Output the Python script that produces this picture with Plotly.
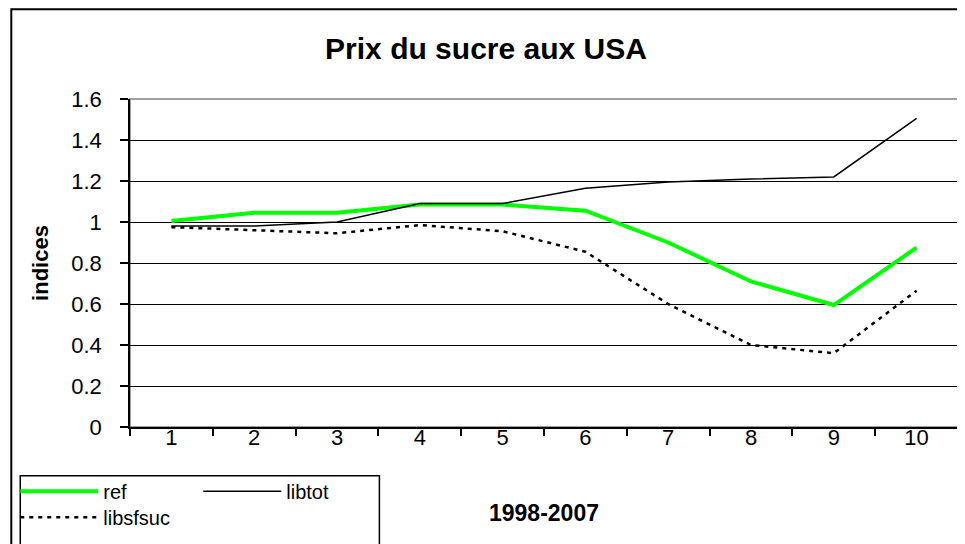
import plotly.graph_objects as go

# Data
years_idx = ["1", "2", "3", "4", "5", "6", "7", "8", "9", "10"]
ref = [1.005, 1.045, 1.045, 1.085, 1.085, 1.055, 0.90, 0.71, 0.595, 0.875]
libtot = [0.98, 0.98, 1.0, 1.09, 1.09, 1.165, 1.195, 1.21, 1.22, 1.505]
libsfsuc = [0.975, 0.96, 0.945, 0.985, 0.955, 0.855, 0.60, 0.40, 0.36, 0.665]

FONT = "Arial, Liberation Sans, sans-serif"

# the page body has an 8px margin, so the figure is 957x536 at (8, 8)
OFF = 8
W, H = 965 - OFF, 544 - OFF
# plot area edges, in page pixels
PL, PR, PT, PB = 128, 958, 99, 428
L, R, T, B = PL - OFF, W - (PR - OFF), PT - OFF, H - (PB - OFF)
PW, PH = PR - PL, PB - PT


def px_x(x):
    return (x - PL) / PW


def px_y(y):
    return (PB - y) / PH


fig = go.Figure()

fig.add_trace(go.Scatter(
    x=years_idx, y=ref, mode="lines", name="ref",
    line=dict(color="#00ff00", width=4),
    legend="legend",
))
fig.add_trace(go.Scatter(
    x=years_idx, y=libtot, mode="lines", name="libtot",
    line=dict(color="black", width=1.5),
    legend="legend",
))
fig.add_trace(go.Scatter(
    x=years_idx, y=libsfsuc, mode="lines", name="libsfsuc",
    line=dict(color="black", width=2.5, dash="4px,5px"),
    legend="legend2",
))

# outer chart border and legend box
fig.add_shape(type="rect", xref="paper", yref="paper",
              x0=px_x(9), x1=px_x(990), y0=px_y(9), y1=px_y(600),
              line=dict(color="black", width=2), layer="below")
fig.add_shape(type="rect", xref="paper", yref="paper",
              x0=px_x(18), x1=px_x(378), y0=px_y(477), y1=px_y(600),
              line=dict(color="black", width=1.5), layer="above")
# grey plot-area frame (top/right)
fig.add_shape(type="rect", xref="paper", yref="paper",
              x0=0, x1=1, y0=0, y1=1,
              line=dict(color="#808080", width=1.5), layer="below")

fig.update_layout(
    width=W, height=H,
    margin=dict(l=L, r=R, t=T, b=B),
    paper_bgcolor="white", plot_bgcolor="white",
    font=dict(family=FONT, size=22, color="black"),
    title=dict(
        text="<b>Prix du sucre aux USA</b>",
        font=dict(size=30, family=FONT, color="black"),
        x=(486 - OFF) / W, xanchor="center", xref="container",
        y=1 - (48 - OFF) / H, yanchor="middle", yref="container",
    ),
    xaxis=dict(
        type="category",
        range=[-0.5, 9.5],
        tickson="boundaries",
        ticks="outside", ticklen=7, tickwidth=1.5, tickcolor="black",
        ticklabelstandoff=-10,
        showline=True, linecolor="black", linewidth=1.5,
        showgrid=False, zeroline=False,
        title=dict(text="<b>1998-2007</b>", font=dict(size=23), standoff=56),
    ),
    yaxis=dict(
        range=[0, 1.6], dtick=0.2,
        ticks="outside", ticklen=8, tickwidth=1.5, tickcolor="black",
        ticklabelstandoff=14,
        showline=True, linecolor="black", linewidth=1.5,
        showgrid=True, gridcolor="black", gridwidth=1.2,
        zeroline=False,
        title=dict(text="<b>indices</b>", font=dict(size=22), standoff=17),
    ),
    legend=dict(
        orientation="h", x=px_x(13), y=px_y(473),
        xanchor="left", yanchor="top",
        entrywidth=90, entrywidthmode="pixels",
        itemwidth=78, bgcolor="rgba(0,0,0,0)",
        font=dict(size=20),
    ),
    legend2=dict(
        orientation="h", x=px_x(13), y=px_y(499),
        xanchor="left", yanchor="top",
        itemwidth=78, bgcolor="rgba(0,0,0,0)",
        font=dict(size=20),
    ),
)

fig.write_html("out.html")
